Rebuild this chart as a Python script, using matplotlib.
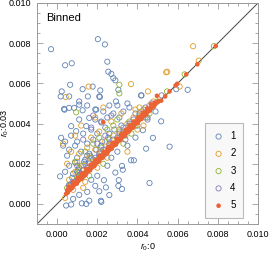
"""Binned scatter: r0:0.03 against r0:0, five bins."""

import matplotlib
matplotlib.use("Agg")
import matplotlib.pyplot as plt
import numpy as np
from matplotlib.ticker import FormatStrFormatter, MultipleLocator

plt.rcParams["font.family"] = ["Liberation Sans", "DejaVu Sans"]
plt.rcParams["mathtext.fontset"] = "custom"
plt.rcParams["mathtext.it"] = "Liberation Sans:italic"
plt.rcParams["mathtext.rm"] = "Liberation Sans"

# values in units of 1e-3
blue_x = [-0.3, 0.4, 0.73, 2.03, 2.38, 2.5, 2.55, 2.7, 2.8, 2.9,
          0.65, 1.27, 0.23, 0.18, 1.53, 2.13, 2.15, 1.77, 3.05, 2.93,
          3.0, 1.1, 1.5, 0.85, 0.6, 0.35, 1.27, 1.9, 2.3, 2.6,
          0.6, 0.37, 1.1, 1.6, 1.1, 0.7, 0.2, 0.95, 1.45, 2.1, 1.95,
          0.4, 0.7, 1.0, 1.3, 1.7, 1.9, 2.2, 2.5, 2.8,
          0.3, 0.6, 0.9, 1.2, 1.5, 1.8, 0.5, 1.0, 1.4, 2.0,
          2.4, 3.1, 3.3, 3.6, 3.9, 4.2, 3.5, 0.15, 0.4, 0.6,
          0.8, 1.1, 1.3, 0.9, 1.6,
          4.6, 3.68, 3.82, 3.23, 3.27, 2.9, 3.07, 2.33, 3.05, 3.23,
          2.43, 2.6, 2.18, 2.2, 2.1, 4.77, 4.43, 5.6, 4.27, 6.5,
          5.93, 5.18, 4.18,
          0.45, 0.7, 1.45, 1.6, 1.23, 0.8, 1.1, 1.5, 1.9, 1.7,
          2.0, 2.5, 2.7, 3.0, 3.5, 3.9, 4.0, 4.5, 4.9,
          0.6, 0.9, 1.2, 1.5, 1.8, 2.1, 2.4, 2.7, 3.0, 3.3,
          3.6, 1.0, 1.4, 2.2, 2.6, 3.2,
          0.75, 1.05, 1.35, 1.65, 1.95, 2.25, 2.55, 2.85]
blue_y = [7.7, 6.9, 7.0, 8.2, 7.94, 7.08, 6.58, 6.47, 6.26, 6.15,
          5.93, 5.71, 5.6, 5.35, 5.35, 5.32, 5.65, 5.84, 5.68, 5.1,
          4.9, 5.1, 4.9, 4.78, 4.78, 4.73, 4.66, 4.7, 4.6, 4.9,
          5.35, 4.69, 4.94, 4.28, 4.2, 3.87, 3.29, 3.62, 3.87, 5.35, 4.69,
          3.1, 3.4, 3.1, 3.5, 3.7, 4.2, 4.1, 4.3, 4.5,
          2.9, 2.7, 2.9, 2.6, 3.0, 3.2, 2.4, 2.3, 2.2, 3.5,
          3.8, 4.3, 4.6, 4.8, 4.5, 5.4, 5.0, 1.37, 1.6, 1.9,
          1.5, 1.8, 1.4, 2.05, 2.5,
          1.04, 2.17, 2.17, 1.89, 1.7, 1.56, 1.18, 1.18, 0.9, 0.74,
          0.82, 0.44, 0.16, 0.1, 0.63, 3.29, 2.75, 2.85, 3.67, 5.68,
          5.71, 4.11, 5.4,
          -0.08, -0.03, 0.0, 0.16, 0.03, 0.25, 0.45, 0.6, 0.9, 1.2,
          1.4, 1.9, 2.3, 2.6, 2.9, 3.3, 3.9, 4.3, 4.6,
          0.9, 1.1, 1.5, 1.8, 2.2, 2.4, 2.7, 3.0, 3.3, 3.6,
          3.9, 1.6, 2.0, 2.9, 3.5, 3.9,
          1.3, 1.7, 2.1, 2.4, 2.7, 3.1, 3.3, 3.7]

orange_x = [0.43, 1.57, 3.68, 5.43, 6.77, 7.05, 5.48, 4.52, 6.1,
            0.6, 0.9, 1.2, 1.0, 1.3, 1.6, 1.8, 1.9, 2.2, 2.4,
            2.6, 2.8, 3.0, 3.1, 3.3, 3.5, 3.7, 3.8, 4.0, 4.2,
            4.4, 4.6, 4.8, 0.8, 1.4, 2.0, 2.5, 1.1, 1.5, 1.7,
            2.1, 0.5, 0.7, 0.3, 1.2, 1.9, 2.3, 0.9, 3.2, 3.5,
            2.7, 0.4, 1.3, 4.0, 4.3, 3.9, 4.1]
orange_y = [5.32, 5.84, 5.96, 6.55, 7.85, 7.13, 6.58, 5.6, 5.84,
            1.2, 1.6, 1.3, 2.1, 1.9, 2.3, 2.0, 2.7, 2.6, 3.1,
            2.9, 3.4, 3.2, 3.7, 3.5, 4.0, 3.8, 4.3, 4.1, 4.6,
            4.5, 4.9, 5.1, 0.7, 1.1, 1.8, 2.3, 2.5, 2.8, 3.3,
            3.6, 2.0, 2.6, 3.0, 3.9, 4.3, 4.8, 3.4, 4.5, 2.6,
            4.1, 0.3, 0.8, 3.7, 3.9, 4.7, 4.8]

green_x = [3.1, 6.35, 7.8, 5.47, 3.1, 0.95,
           0.7, 1.0, 1.2, 1.5, 1.7, 2.0, 2.2, 2.4, 2.6, 2.9,
           3.1, 3.4, 3.6, 3.9, 4.1, 4.4, 4.7, 0.9, 1.4, 1.8,
           2.1, 2.5, 2.8, 3.0, 1.6, 2.3, 3.3, 0.5, 1.1, 3.7,
           4.3, 4.6, 5.0]
green_y = [5.93, 6.45, 7.85, 5.6, 5.5, 4.56,
           1.0, 1.3, 1.9, 1.7, 2.3, 2.2, 2.8, 2.5, 3.2, 3.0,
           3.6, 3.4, 4.1, 3.9, 4.4, 4.3, 4.8, 2.1, 2.6, 3.0,
           3.3, 3.7, 3.9, 4.2, 1.4, 2.0, 3.0, 0.8, 1.6, 3.5,
           4.7, 4.5, 5.1]

purple_x = [0.8, 1.1, 1.3, 1.6, 1.9, 2.1, 2.3, 2.6, 2.8, 3.1,
            3.3, 3.6, 3.8, 4.1, 4.4, 1.0, 1.5, 2.0, 2.4, 1.7,
            2.2, 1.3, 0.6, 4.7, 5.2, 4.5, 3.4, 1.8, 2.7]
purple_y = [1.1, 1.4, 1.7, 2.0, 2.3, 2.5, 2.7, 3.0, 3.2, 3.5,
            3.8, 4.0, 4.2, 4.5, 4.8, 1.9, 2.4, 3.0, 3.4, 3.8,
            4.05, 3.2, 0.95, 5.0, 5.4, 4.2, 3.2, 4.4, 4.4]

red_x = [0.45, 0.55, 0.62, 0.7, 0.78, 0.88, 0.95, 1.05, 1.12, 1.2,
         1.3, 1.38, 1.47, 1.55, 1.62, 1.72, 1.8, 1.88, 1.97, 2.05,
         2.12, 2.22, 2.3, 2.38, 2.47, 2.55, 2.63, 2.72, 2.8, 2.88,
         2.97, 3.05, 3.13, 3.22, 3.3, 3.38, 3.47, 3.55, 3.63, 3.72,
         3.8, 3.88, 3.97, 4.05, 4.13, 4.22, 4.3, 4.38, 4.47, 4.55,
         4.63, 4.72, 4.8, 4.88, 4.97, 5.05,
         0.5, 0.68, 0.85, 1.0, 1.18, 1.35, 1.52, 1.7, 1.85, 2.02,
         2.2, 2.35, 2.52, 2.7, 2.85, 3.02, 3.2, 3.35, 3.52, 3.7,
         3.85, 4.02, 4.2, 4.35, 4.52, 4.7, 4.85,
         0.58, 0.8, 1.02, 1.25, 1.45, 1.66, 1.9, 2.1, 2.32, 2.55,
         2.76, 2.98, 3.18, 3.42, 3.62, 3.83, 4.05, 4.27, 4.48, 4.68,
         0.52, 0.75, 0.98, 1.22, 1.42, 1.64, 1.86, 2.08, 2.28, 2.5,
         2.72, 2.92, 3.15, 3.36, 3.58, 3.78, 4.0, 4.2, 4.42, 4.62, 4.82,
         5.18, 5.38, 5.6, 5.9, 5.98, 6.43, 6.98, 7.9,
         4.97, 2.3, 0.7]
red_y = [0.5, 0.62, 0.7, 0.78, 0.86, 0.97, 1.04, 1.13, 1.21, 1.3,
         1.38, 1.47, 1.55, 1.64, 1.71, 1.8, 1.89, 1.97, 2.05, 2.14,
         2.22, 2.3, 2.39, 2.46, 2.55, 2.64, 2.71, 2.8, 2.89, 2.96,
         3.05, 3.14, 3.21, 3.3, 3.39, 3.46, 3.55, 3.64, 3.71, 3.8,
         3.89, 3.96, 4.05, 4.14, 4.21, 4.3, 4.39, 4.46, 4.55, 4.62,
         4.71, 4.8, 4.88, 4.96, 5.05, 5.12,
         0.68, 0.86, 1.04, 1.2, 1.37, 1.55, 1.72, 1.9, 2.05, 2.22,
         2.4, 2.55, 2.72, 2.9, 3.05, 3.22, 3.4, 3.55, 3.72, 3.9,
         4.05, 4.22, 4.4, 4.55, 4.72, 4.9, 5.04,
         0.86, 1.08, 1.3, 1.52, 1.73, 1.94, 2.17, 2.38, 2.6, 2.82,
         3.03, 3.25, 3.46, 3.69, 3.9, 4.1, 4.32, 4.54, 4.75, 4.95,
         0.56, 0.79, 1.01, 1.25, 1.45, 1.67, 1.89, 2.11, 2.31, 2.53,
         2.75, 2.95, 3.18, 3.39, 3.61, 3.81, 4.03, 4.23, 4.45, 4.65, 4.85,
         5.14, 5.35, 5.6, 5.9, 5.98, 6.45, 6.95, 7.86,
         5.38, 4.07, 0.84]

series = [
    ("1", blue_x, blue_y, "#5e81b5", False),
    ("2", orange_x, orange_y, "#e19c24", False),
    ("3", green_x, green_y, "#8fb032", False),
    ("4", purple_x, purple_y, "#8778b3", False),
    ("5", red_x, red_y, "#eb6235", True),
]

fig = plt.figure(figsize=(2.69, 2.54), dpi=100)
ax = fig.add_axes([37 / 269, 30 / 254, 221 / 269, 221 / 254])

ax.plot([-0.001, 0.010], [-0.001, 0.010], color="#444444", lw=0.7, zorder=1)

for label, xs, ys, color, filled in series:
    x = np.array(xs) * 1e-3
    y = np.array(ys) * 1e-3
    if filled:
        ax.scatter(x, y, s=11, color=color, edgecolors="none", zorder=3, label=label)
    else:
        ax.scatter(x, y, s=14, facecolors="none", edgecolors=color,
                   linewidths=0.6, zorder=2, label=label)

ax.set_xlim(-0.001, 0.010)
ax.set_ylim(-0.001, 0.010)

for axis in (ax.xaxis, ax.yaxis):
    axis.set_major_locator(MultipleLocator(0.002))
    axis.set_minor_locator(MultipleLocator(0.0005))
    axis.set_major_formatter(FormatStrFormatter("%.3f"))

ax.tick_params(which="both", direction="in", top=True, right=True,
               color="#999999", labelsize=6.5, width=0.6)
ax.tick_params(which="major", length=4, pad=4)
ax.tick_params(which="minor", length=2)
for spine in ax.spines.values():
    spine.set_color("#999999")
    spine.set_linewidth(0.7)

ax.set_xlabel(r"$r_0$:0", fontsize=6.5)
ax.set_ylabel(r"$r_0$:0.03", fontsize=6.5)
ax.xaxis.set_label_coords(0.5, -0.08)
ax.yaxis.set_label_coords(-0.118, 0.46)

ax.text(0.04, 0.955, "Binned", transform=ax.transAxes, fontsize=8,
        ha="left", va="top")

leg = ax.legend(loc="lower left", bbox_to_anchor=(0.76, 0.027), fontsize=7,
                frameon=True, fancybox=False, borderpad=0.8,
                labelspacing=0.75, handletextpad=0.6, handlelength=1.2,
                borderaxespad=0, scatterpoints=1)
leg.get_frame().set_facecolor("#f7f7f7")
leg.get_frame().set_edgecolor("#aaaaaa")
leg.get_frame().set_linewidth(0.8)
leg.set_zorder(5)

fig.savefig("out.png", dpi=100)
